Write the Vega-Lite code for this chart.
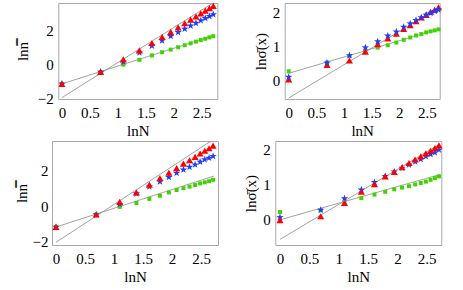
{
"$schema": "https://vega.github.io/schema/vega-lite/v6.json",
"background": "white",
"padding": {"left": 13, "top": 2, "right": 0, "bottom": 0},
"spacing": 1,
"config": {
  "font": "Liberation Serif, DejaVu Serif, serif",
  "view": {"stroke": "#a8a8a8", "strokeWidth": 1},
  "axis": {"domain": false, "grid": false, "ticks": false, "labelFont": "Liberation Serif, DejaVu Serif, serif", "labelFontSize": 15, "labelColor": "#000", "titleFont": "Liberation Serif, DejaVu Serif, serif", "titleFontSize": 15, "titleFontWeight": "normal", "titleColor": "#000"},
  "axisX": {"labelPadding": 6, "titlePadding": 3},
  "axisY": {"labelPadding": 5, "titlePadding": 5}
},
"datasets": {
"pts": [
{"p":"a","s":"g","x":0,"y":-1.15},{"p":"a","s":"g","x":0.6931,"y":-0.45},{"p":"a","s":"g","x":1.0986,"y":-0.02},{"p":"a","s":"g","x":1.3863,"y":0.26},{"p":"a","s":"g","x":1.6094,"y":0.52},{"p":"a","s":"g","x":1.7918,"y":0.71},{"p":"a","s":"g","x":1.9459,"y":0.86},{"p":"a","s":"g","x":2.0794,"y":1.0},{"p":"a","s":"g","x":2.1972,"y":1.12},{"p":"a","s":"g","x":2.3026,"y":1.23},{"p":"a","s":"g","x":2.3979,"y":1.33},{"p":"a","s":"g","x":2.4849,"y":1.42},{"p":"a","s":"g","x":2.5649,"y":1.5},{"p":"a","s":"g","x":2.6391,"y":1.58},{"p":"a","s":"g","x":2.7081,"y":1.65},
{"p":"a","s":"b","x":0,"y":-1.15},{"p":"a","s":"b","x":0.6931,"y":-0.45},{"p":"a","s":"b","x":1.0986,"y":0.14},{"p":"a","s":"b","x":1.3863,"y":0.68},{"p":"a","s":"b","x":1.6094,"y":1.08},{"p":"a","s":"b","x":1.7918,"y":1.39},{"p":"a","s":"b","x":1.9459,"y":1.65},{"p":"a","s":"b","x":2.0794,"y":1.88},{"p":"a","s":"b","x":2.1972,"y":2.08},{"p":"a","s":"b","x":2.3026,"y":2.26},{"p":"a","s":"b","x":2.3979,"y":2.42},{"p":"a","s":"b","x":2.4849,"y":2.57},{"p":"a","s":"b","x":2.5649,"y":2.7},{"p":"a","s":"b","x":2.6391,"y":2.82},{"p":"a","s":"b","x":2.7081,"y":2.93},
{"p":"a","s":"r","x":0,"y":-1.15},{"p":"a","s":"r","x":0.6931,"y":-0.45},{"p":"a","s":"r","x":1.0986,"y":0.29},{"p":"a","s":"r","x":1.3863,"y":0.82},{"p":"a","s":"r","x":1.6094,"y":1.25},{"p":"a","s":"r","x":1.7918,"y":1.6},{"p":"a","s":"r","x":1.9459,"y":1.9},{"p":"a","s":"r","x":2.0794,"y":2.17},{"p":"a","s":"r","x":2.1972,"y":2.41},{"p":"a","s":"r","x":2.3026,"y":2.62},{"p":"a","s":"r","x":2.3979,"y":2.81},{"p":"a","s":"r","x":2.4849,"y":2.99},{"p":"a","s":"r","x":2.5649,"y":3.15},{"p":"a","s":"r","x":2.6391,"y":3.3},{"p":"a","s":"r","x":2.7081,"y":3.43},
{"p":"b","s":"g","x":0,"y":0.26},{"p":"b","s":"g","x":0.6931,"y":0.52},{"p":"b","s":"g","x":1.0986,"y":0.71},{"p":"b","s":"g","x":1.3863,"y":0.85},{"p":"b","s":"g","x":1.6094,"y":0.96},{"p":"b","s":"g","x":1.7918,"y":1.03},{"p":"b","s":"g","x":1.9459,"y":1.11},{"p":"b","s":"g","x":2.0794,"y":1.19},{"p":"b","s":"g","x":2.1972,"y":1.26},{"p":"b","s":"g","x":2.3026,"y":1.32},{"p":"b","s":"g","x":2.3979,"y":1.36},{"p":"b","s":"g","x":2.4849,"y":1.41},{"p":"b","s":"g","x":2.5649,"y":1.44},{"p":"b","s":"g","x":2.6391,"y":1.47},{"p":"b","s":"g","x":2.7081,"y":1.5},
{"p":"b","s":"b","x":0,"y":0.09},{"p":"b","s":"b","x":0.6931,"y":0.51},{"p":"b","s":"b","x":1.0986,"y":0.73},{"p":"b","s":"b","x":1.3863,"y":0.96},{"p":"b","s":"b","x":1.6094,"y":1.14},{"p":"b","s":"b","x":1.7918,"y":1.31},{"p":"b","s":"b","x":1.9459,"y":1.43},{"p":"b","s":"b","x":2.0794,"y":1.57},{"p":"b","s":"b","x":2.1972,"y":1.67},{"p":"b","s":"b","x":2.3026,"y":1.77},{"p":"b","s":"b","x":2.3979,"y":1.85},{"p":"b","s":"b","x":2.4849,"y":1.93},{"p":"b","s":"b","x":2.5649,"y":1.98},{"p":"b","s":"b","x":2.6391,"y":2.04},{"p":"b","s":"b","x":2.7081,"y":2.08},
{"p":"b","s":"r","x":0,"y":0.02},{"p":"b","s":"r","x":0.6931,"y":0.45},{"p":"b","s":"r","x":1.0986,"y":0.58},{"p":"b","s":"r","x":1.3863,"y":0.84},{"p":"b","s":"r","x":1.6094,"y":1.06},{"p":"b","s":"r","x":1.7918,"y":1.23},{"p":"b","s":"r","x":1.9459,"y":1.37},{"p":"b","s":"r","x":2.0794,"y":1.51},{"p":"b","s":"r","x":2.1972,"y":1.62},{"p":"b","s":"r","x":2.3026,"y":1.74},{"p":"b","s":"r","x":2.3979,"y":1.85},{"p":"b","s":"r","x":2.4849,"y":1.93},{"p":"b","s":"r","x":2.5649,"y":2.02},{"p":"b","s":"r","x":2.6391,"y":2.08},{"p":"b","s":"r","x":2.7081,"y":2.15},
{"p":"c","s":"g","x":0,"y":-1.18},{"p":"c","s":"g","x":0.6931,"y":-0.48},{"p":"c","s":"g","x":1.0986,"y":-0.05},{"p":"c","s":"g","x":1.3863,"y":0.17},{"p":"c","s":"g","x":1.6094,"y":0.4},{"p":"c","s":"g","x":1.7918,"y":0.58},{"p":"c","s":"g","x":1.9459,"y":0.76},{"p":"c","s":"g","x":2.0794,"y":0.9},{"p":"c","s":"g","x":2.1972,"y":1.0},{"p":"c","s":"g","x":2.3026,"y":1.09},{"p":"c","s":"g","x":2.3979,"y":1.18},{"p":"c","s":"g","x":2.4849,"y":1.27},{"p":"c","s":"g","x":2.5649,"y":1.33},{"p":"c","s":"g","x":2.6391,"y":1.39},{"p":"c","s":"g","x":2.7081,"y":1.47},
{"p":"c","s":"b","x":0,"y":-1.18},{"p":"c","s":"b","x":0.6931,"y":-0.48},{"p":"c","s":"b","x":1.0986,"y":0.1},{"p":"c","s":"b","x":1.3863,"y":0.7},{"p":"c","s":"b","x":1.6094,"y":1.09},{"p":"c","s":"b","x":1.7918,"y":1.37},{"p":"c","s":"b","x":1.9459,"y":1.62},{"p":"c","s":"b","x":2.0794,"y":1.85},{"p":"c","s":"b","x":2.1972,"y":2.04},{"p":"c","s":"b","x":2.3026,"y":2.19},{"p":"c","s":"b","x":2.3979,"y":2.32},{"p":"c","s":"b","x":2.4849,"y":2.48},{"p":"c","s":"b","x":2.5649,"y":2.61},{"p":"c","s":"b","x":2.6391,"y":2.7},{"p":"c","s":"b","x":2.7081,"y":2.8},
{"p":"c","s":"r","x":0,"y":-1.18},{"p":"c","s":"r","x":0.6931,"y":-0.48},{"p":"c","s":"r","x":1.0986,"y":0.23},{"p":"c","s":"r","x":1.3863,"y":0.76},{"p":"c","s":"r","x":1.6094,"y":1.2},{"p":"c","s":"r","x":1.7918,"y":1.56},{"p":"c","s":"r","x":1.9459,"y":1.87},{"p":"c","s":"r","x":2.0794,"y":2.13},{"p":"c","s":"r","x":2.1972,"y":2.38},{"p":"c","s":"r","x":2.3026,"y":2.57},{"p":"c","s":"r","x":2.3979,"y":2.76},{"p":"c","s":"r","x":2.4849,"y":2.95},{"p":"c","s":"r","x":2.5649,"y":3.1},{"p":"c","s":"r","x":2.6391,"y":3.24},{"p":"c","s":"r","x":2.7081,"y":3.39},
{"p":"d","s":"g","x":0,"y":0.2},{"p":"d","s":"g","x":0.6931,"y":0.25},{"p":"d","s":"g","x":1.0986,"y":0.45},{"p":"d","s":"g","x":1.3863,"y":0.6},{"p":"d","s":"g","x":1.6094,"y":0.7},{"p":"d","s":"g","x":1.7918,"y":0.78},{"p":"d","s":"g","x":1.9459,"y":0.85},{"p":"d","s":"g","x":2.0794,"y":0.9},{"p":"d","s":"g","x":2.1972,"y":0.94},{"p":"d","s":"g","x":2.3026,"y":0.99},{"p":"d","s":"g","x":2.3979,"y":1.03},{"p":"d","s":"g","x":2.4849,"y":1.07},{"p":"d","s":"g","x":2.5649,"y":1.12},{"p":"d","s":"g","x":2.6391,"y":1.17},{"p":"d","s":"g","x":2.7081,"y":1.22},
{"p":"d","s":"b","x":0,"y":0.05},{"p":"d","s":"b","x":0.6931,"y":0.26},{"p":"d","s":"b","x":1.0986,"y":0.59},{"p":"d","s":"b","x":1.3863,"y":0.84},{"p":"d","s":"b","x":1.6094,"y":1.05},{"p":"d","s":"b","x":1.7918,"y":1.22},{"p":"d","s":"b","x":1.9459,"y":1.35},{"p":"d","s":"b","x":2.0794,"y":1.46},{"p":"d","s":"b","x":2.1972,"y":1.55},{"p":"d","s":"b","x":2.3026,"y":1.64},{"p":"d","s":"b","x":2.3979,"y":1.71},{"p":"d","s":"b","x":2.4849,"y":1.79},{"p":"d","s":"b","x":2.5649,"y":1.85},{"p":"d","s":"b","x":2.6391,"y":1.9},{"p":"d","s":"b","x":2.7081,"y":1.98},
{"p":"d","s":"r","x":0,"y":-0.03},{"p":"d","s":"r","x":0.6931,"y":0.08},{"p":"d","s":"r","x":1.0986,"y":0.46},{"p":"d","s":"r","x":1.3863,"y":0.78},{"p":"d","s":"r","x":1.6094,"y":1.0},{"p":"d","s":"r","x":1.7918,"y":1.22},{"p":"d","s":"r","x":1.9459,"y":1.35},{"p":"d","s":"r","x":2.0794,"y":1.48},{"p":"d","s":"r","x":2.1972,"y":1.6},{"p":"d","s":"r","x":2.3026,"y":1.7},{"p":"d","s":"r","x":2.3979,"y":1.79},{"p":"d","s":"r","x":2.4849,"y":1.88},{"p":"d","s":"r","x":2.5649,"y":1.95},{"p":"d","s":"r","x":2.6391,"y":2.03},{"p":"d","s":"r","x":2.7081,"y":2.11}
],
"fits": [
{"p":"a","k":1,"x":0,"y":-1.15},{"p":"a","k":1,"x":2.73,"y":1.7},{"p":"a","k":2,"x":0,"y":-1.96},{"p":"a","k":2,"x":2.73,"y":3.66},
{"p":"b","k":1,"x":0,"y":0.2},{"p":"b","k":1,"x":2.72,"y":1.51},{"p":"b","k":2,"x":0,"y":-0.53},{"p":"b","k":2,"x":2.72,"y":2.15},
{"p":"c","k":1,"x":0,"y":-1.18},{"p":"c","k":1,"x":2.72,"y":1.68},{"p":"c","k":2,"x":0,"y":-2.04},{"p":"c","k":2,"x":2.72,"y":3.75},
{"p":"d","k":1,"x":0,"y":-0.02},{"p":"d","k":1,"x":2.72,"y":1.27},{"p":"d","k":2,"x":0,"y":-0.58},{"p":"d","k":2,"x":2.72,"y":2.14}
]
},
"vconcat": [
{"bounds": "flush", "spacing": 5.3, "hconcat": [
  {"width": 1, "height": 1, "view": {"stroke": null}, "data": {"values": []}, "mark": "point", "encoding": {}},
  {"bounds": "flush", "spacing": 67.4, "hconcat": [
    {"width": 159, "height": 96,
     "encoding": {"x": {"field": "x", "type": "quantitative", "scale": {"domain": [-0.065, 2.78], "nice": false, "zero": false}, "axis": {"title": "lnN", "values": [0,0.5,1,1.5,2,2.5], "format": "~g"}},
                  "y": {"field": "y", "type": "quantitative", "scale": {"domain": [-2.04, 3.6], "nice": false, "zero": false}, "axis": {"title": "lnn̿", "values": [-2,0,2], "format": "~g", "titlePadding": 7, "labelPadding": 5}}},
     "layer": [
      {"data": {"name": "fits"}, "transform": [{"filter": "datum.p=='a'"}], "mark": {"type": "line", "clip": true, "color": "#8a8a8a", "strokeWidth": 0.8}, "encoding": {"detail": {"field": "k"}}},
      {"data": {"name": "pts"}, "transform": [{"filter": "datum.p=='a' && datum.s=='g'"}], "mark": {"type": "point", "shape": "square", "filled": true, "opacity": 1, "color": "#3fd400", "size": 16}},
      {"data": {"name": "pts"}, "transform": [{"filter": "datum.p=='a' && datum.s=='b'"}], "mark": {"type": "point", "shape": "M0,-1L0.235,-0.324L0.951,-0.309L0.38,0.124L0.588,0.809L0,0.4L-0.588,0.809L-0.38,0.124L-0.951,-0.309L-0.235,-0.324Z", "filled": true, "opacity": 1, "color": "#1f3cff", "size": 60}},
      {"data": {"name": "pts"}, "transform": [{"filter": "datum.p=='a' && datum.s=='r'"}], "mark": {"type": "point", "shape": "triangle-up", "filled": true, "opacity": 1, "color": "#ff0000", "size": 50}},
      {"data": {"values": [{"t": "(a)"}]}, "mark": {"type": "text", "align": "left", "baseline": "middle", "fontSize": 12, "font": "Liberation Serif, DejaVu Serif, serif", "color": "#000"}, "encoding": {"x": {"datum": 0.03}, "y": {"datum": 3.1}, "text": {"field": "t"}}}
     ]},
    {"width": 155, "height": 96,
     "encoding": {"x": {"field": "x", "type": "quantitative", "scale": {"domain": [-0.072, 2.73], "nice": false, "zero": false}, "axis": {"title": "lnN", "values": [0,0.5,1,1.5,2,2.5], "format": "~g"}},
                  "y": {"field": "y", "type": "quantitative", "scale": {"domain": [-0.56, 2.28], "nice": false, "zero": false}, "axis": {"title": "lnσ̄(x)", "values": [0,1,2], "format": "~g", "titlePadding": 4, "labelPadding": 5}}},
     "layer": [
      {"data": {"name": "fits"}, "transform": [{"filter": "datum.p=='b'"}], "mark": {"type": "line", "clip": true, "color": "#8a8a8a", "strokeWidth": 0.8}, "encoding": {"detail": {"field": "k"}}},
      {"data": {"name": "pts"}, "transform": [{"filter": "datum.p=='b' && datum.s=='g'"}], "mark": {"type": "point", "shape": "square", "filled": true, "opacity": 1, "color": "#3fd400", "size": 16}},
      {"data": {"name": "pts"}, "transform": [{"filter": "datum.p=='b' && datum.s=='r'"}], "mark": {"type": "point", "shape": "triangle-up", "filled": true, "opacity": 1, "color": "#ff0000", "size": 50}},
      {"data": {"name": "pts"}, "transform": [{"filter": "datum.p=='b' && datum.s=='b'"}], "mark": {"type": "point", "shape": "M0,-1L0.235,-0.324L0.951,-0.309L0.38,0.124L0.588,0.809L0,0.4L-0.588,0.809L-0.38,0.124L-0.951,-0.309L-0.235,-0.324Z", "filled": true, "opacity": 1, "color": "#1f3cff", "size": 60}},
      {"data": {"values": [{"t": "(b)"}]}, "mark": {"type": "text", "align": "left", "baseline": "middle", "fontSize": 12, "font": "Liberation Serif, DejaVu Serif, serif", "color": "#000"}, "encoding": {"x": {"datum": 0.04}, "y": {"datum": 2.0}, "text": {"field": "t"}}}
     ]}
  ]}
]},
{"bounds": "flush", "spacing": 57.3, "hconcat": [
    {"width": 166, "height": 104,
     "encoding": {"x": {"field": "x", "type": "quantitative", "scale": {"domain": [-0.069, 2.793], "nice": false, "zero": false}, "axis": {"title": "lnN", "values": [0,0.5,1,1.5,2,2.5], "format": "~g"}},
                  "y": {"field": "y", "type": "quantitative", "scale": {"domain": [-2.19, 3.65], "nice": false, "zero": false}, "axis": {"title": "lnn̿", "values": [-2,0,2], "format": "~g", "titlePadding": 3, "labelPadding": 4}}},
     "layer": [
      {"data": {"name": "fits"}, "transform": [{"filter": "datum.p=='c'"}], "mark": {"type": "line", "clip": true, "color": "#8a8a8a", "strokeWidth": 0.8}, "encoding": {"detail": {"field": "k"}}},
      {"data": {"name": "pts"}, "transform": [{"filter": "datum.p=='c' && datum.s=='g'"}], "mark": {"type": "point", "shape": "square", "filled": true, "opacity": 1, "color": "#3fd400", "size": 16}},
      {"data": {"name": "pts"}, "transform": [{"filter": "datum.p=='c' && datum.s=='b'"}], "mark": {"type": "point", "shape": "M0,-1L0.235,-0.324L0.951,-0.309L0.38,0.124L0.588,0.809L0,0.4L-0.588,0.809L-0.38,0.124L-0.951,-0.309L-0.235,-0.324Z", "filled": true, "opacity": 1, "color": "#1f3cff", "size": 60}},
      {"data": {"name": "pts"}, "transform": [{"filter": "datum.p=='c' && datum.s=='r'"}], "mark": {"type": "point", "shape": "triangle-up", "filled": true, "opacity": 1, "color": "#ff0000", "size": 50}},
      {"data": {"values": [{"t": "(c)"}]}, "mark": {"type": "text", "align": "left", "baseline": "middle", "fontSize": 12, "font": "Liberation Serif, DejaVu Serif, serif", "color": "#000"}, "encoding": {"x": {"datum": 0.0}, "y": {"datum": 3.05}, "text": {"field": "t"}}}
     ]},
    {"width": 166, "height": 104,
     "encoding": {"x": {"field": "x", "type": "quantitative", "scale": {"domain": [-0.08, 2.748], "nice": false, "zero": false}, "axis": {"title": "lnN", "values": [0,0.5,1,1.5,2,2.5], "format": "~g"}},
                  "y": {"field": "y", "type": "quantitative", "scale": {"domain": [-0.74, 2.23], "nice": false, "zero": false}, "axis": {"title": "lnσ̄(x)", "values": [0,1,2], "format": "~g", "titlePadding": 4, "labelPadding": 5}}},
     "layer": [
      {"data": {"name": "fits"}, "transform": [{"filter": "datum.p=='d'"}], "mark": {"type": "line", "clip": true, "color": "#8a8a8a", "strokeWidth": 0.8}, "encoding": {"detail": {"field": "k"}}},
      {"data": {"name": "pts"}, "transform": [{"filter": "datum.p=='d' && datum.s=='g'"}], "mark": {"type": "point", "shape": "square", "filled": true, "opacity": 1, "color": "#3fd400", "size": 16}},
      {"data": {"name": "pts"}, "transform": [{"filter": "datum.p=='d' && datum.s=='b'"}], "mark": {"type": "point", "shape": "M0,-1L0.235,-0.324L0.951,-0.309L0.38,0.124L0.588,0.809L0,0.4L-0.588,0.809L-0.38,0.124L-0.951,-0.309L-0.235,-0.324Z", "filled": true, "opacity": 1, "color": "#1f3cff", "size": 60}},
      {"data": {"name": "pts"}, "transform": [{"filter": "datum.p=='d' && datum.s=='r'"}], "mark": {"type": "point", "shape": "triangle-up", "filled": true, "opacity": 1, "color": "#ff0000", "size": 50}},
      {"data": {"values": [{"t": "(d)"}]}, "mark": {"type": "text", "align": "left", "baseline": "middle", "fontSize": 12, "font": "Liberation Serif, DejaVu Serif, serif", "color": "#000"}, "encoding": {"x": {"datum": 0.0}, "y": {"datum": 1.89}, "text": {"field": "t"}}}
     ]}
]}
]
}
